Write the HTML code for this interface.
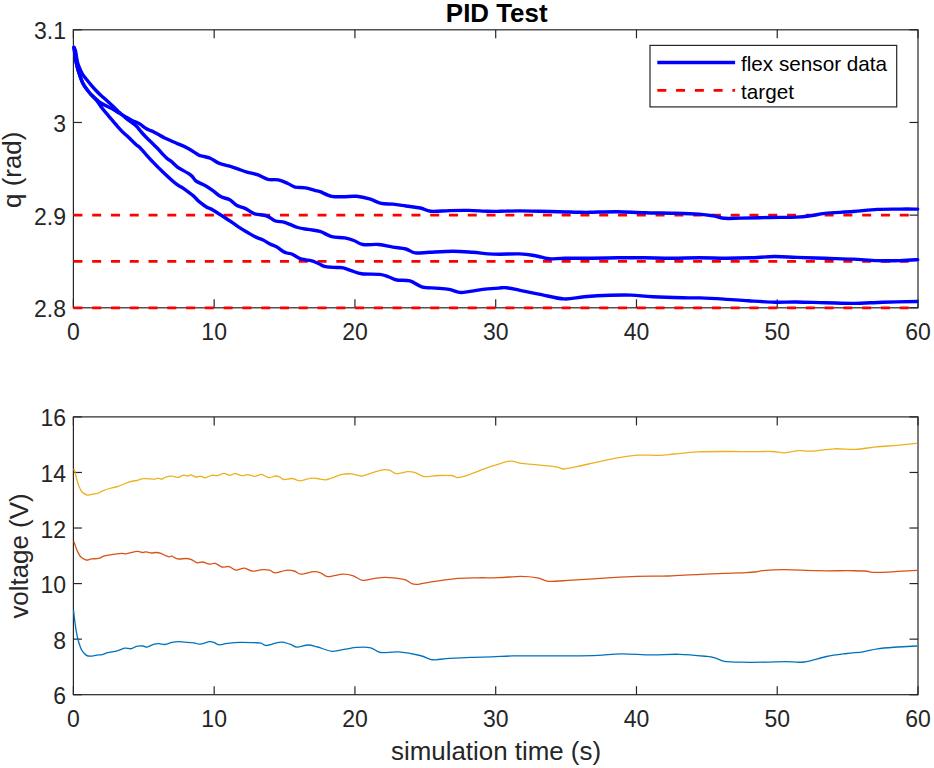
<!DOCTYPE html><html><head><meta charset="utf-8"><style>html,body{margin:0;padding:0;background:#fff;}svg{display:block}</style></head><body>
<svg width="934" height="768" viewBox="0 0 934 768">
<rect width="934" height="768" fill="#fff"/>
<line x1="73.40" y1="307.80" x2="73.40" y2="299.30" stroke="#262626" stroke-width="1.20"/>
<line x1="73.40" y1="29.80" x2="73.40" y2="38.30" stroke="#262626" stroke-width="1.20"/>
<line x1="214.17" y1="307.80" x2="214.17" y2="299.30" stroke="#262626" stroke-width="1.20"/>
<line x1="214.17" y1="29.80" x2="214.17" y2="38.30" stroke="#262626" stroke-width="1.20"/>
<line x1="354.93" y1="307.80" x2="354.93" y2="299.30" stroke="#262626" stroke-width="1.20"/>
<line x1="354.93" y1="29.80" x2="354.93" y2="38.30" stroke="#262626" stroke-width="1.20"/>
<line x1="495.70" y1="307.80" x2="495.70" y2="299.30" stroke="#262626" stroke-width="1.20"/>
<line x1="495.70" y1="29.80" x2="495.70" y2="38.30" stroke="#262626" stroke-width="1.20"/>
<line x1="636.47" y1="307.80" x2="636.47" y2="299.30" stroke="#262626" stroke-width="1.20"/>
<line x1="636.47" y1="29.80" x2="636.47" y2="38.30" stroke="#262626" stroke-width="1.20"/>
<line x1="777.23" y1="307.80" x2="777.23" y2="299.30" stroke="#262626" stroke-width="1.20"/>
<line x1="777.23" y1="29.80" x2="777.23" y2="38.30" stroke="#262626" stroke-width="1.20"/>
<line x1="918.00" y1="307.80" x2="918.00" y2="299.30" stroke="#262626" stroke-width="1.20"/>
<line x1="918.00" y1="29.80" x2="918.00" y2="38.30" stroke="#262626" stroke-width="1.20"/>
<line x1="73.40" y1="694.70" x2="73.40" y2="686.20" stroke="#262626" stroke-width="1.20"/>
<line x1="73.40" y1="416.90" x2="73.40" y2="425.40" stroke="#262626" stroke-width="1.20"/>
<line x1="214.17" y1="694.70" x2="214.17" y2="686.20" stroke="#262626" stroke-width="1.20"/>
<line x1="214.17" y1="416.90" x2="214.17" y2="425.40" stroke="#262626" stroke-width="1.20"/>
<line x1="354.93" y1="694.70" x2="354.93" y2="686.20" stroke="#262626" stroke-width="1.20"/>
<line x1="354.93" y1="416.90" x2="354.93" y2="425.40" stroke="#262626" stroke-width="1.20"/>
<line x1="495.70" y1="694.70" x2="495.70" y2="686.20" stroke="#262626" stroke-width="1.20"/>
<line x1="495.70" y1="416.90" x2="495.70" y2="425.40" stroke="#262626" stroke-width="1.20"/>
<line x1="636.47" y1="694.70" x2="636.47" y2="686.20" stroke="#262626" stroke-width="1.20"/>
<line x1="636.47" y1="416.90" x2="636.47" y2="425.40" stroke="#262626" stroke-width="1.20"/>
<line x1="777.23" y1="694.70" x2="777.23" y2="686.20" stroke="#262626" stroke-width="1.20"/>
<line x1="777.23" y1="416.90" x2="777.23" y2="425.40" stroke="#262626" stroke-width="1.20"/>
<line x1="918.00" y1="694.70" x2="918.00" y2="686.20" stroke="#262626" stroke-width="1.20"/>
<line x1="918.00" y1="416.90" x2="918.00" y2="425.40" stroke="#262626" stroke-width="1.20"/>
<line x1="73.40" y1="307.80" x2="81.90" y2="307.80" stroke="#262626" stroke-width="1.20"/>
<line x1="918.00" y1="307.80" x2="909.50" y2="307.80" stroke="#262626" stroke-width="1.20"/>
<line x1="73.40" y1="215.13" x2="81.90" y2="215.13" stroke="#262626" stroke-width="1.20"/>
<line x1="918.00" y1="215.13" x2="909.50" y2="215.13" stroke="#262626" stroke-width="1.20"/>
<line x1="73.40" y1="122.47" x2="81.90" y2="122.47" stroke="#262626" stroke-width="1.20"/>
<line x1="918.00" y1="122.47" x2="909.50" y2="122.47" stroke="#262626" stroke-width="1.20"/>
<line x1="73.40" y1="29.80" x2="81.90" y2="29.80" stroke="#262626" stroke-width="1.20"/>
<line x1="918.00" y1="29.80" x2="909.50" y2="29.80" stroke="#262626" stroke-width="1.20"/>
<line x1="73.40" y1="694.70" x2="81.90" y2="694.70" stroke="#262626" stroke-width="1.20"/>
<line x1="918.00" y1="694.70" x2="909.50" y2="694.70" stroke="#262626" stroke-width="1.20"/>
<line x1="73.40" y1="639.14" x2="81.90" y2="639.14" stroke="#262626" stroke-width="1.20"/>
<line x1="918.00" y1="639.14" x2="909.50" y2="639.14" stroke="#262626" stroke-width="1.20"/>
<line x1="73.40" y1="583.58" x2="81.90" y2="583.58" stroke="#262626" stroke-width="1.20"/>
<line x1="918.00" y1="583.58" x2="909.50" y2="583.58" stroke="#262626" stroke-width="1.20"/>
<line x1="73.40" y1="528.02" x2="81.90" y2="528.02" stroke="#262626" stroke-width="1.20"/>
<line x1="918.00" y1="528.02" x2="909.50" y2="528.02" stroke="#262626" stroke-width="1.20"/>
<line x1="73.40" y1="472.46" x2="81.90" y2="472.46" stroke="#262626" stroke-width="1.20"/>
<line x1="918.00" y1="472.46" x2="909.50" y2="472.46" stroke="#262626" stroke-width="1.20"/>
<line x1="73.40" y1="416.90" x2="81.90" y2="416.90" stroke="#262626" stroke-width="1.20"/>
<line x1="918.00" y1="416.90" x2="909.50" y2="416.90" stroke="#262626" stroke-width="1.20"/>
<rect x="73.40" y="29.80" width="844.60" height="278.00" fill="none" stroke="#262626" stroke-width="1.20"/>
<rect x="73.40" y="416.90" width="844.60" height="277.80" fill="none" stroke="#262626" stroke-width="1.20"/>
<line x1="73.40" y1="215.13" x2="918.00" y2="215.13" stroke="#ff0000" stroke-width="2.7" stroke-dasharray="9 9.78"/>
<line x1="73.40" y1="261.47" x2="918.00" y2="261.47" stroke="#ff0000" stroke-width="2.7" stroke-dasharray="9 9.78"/>
<line x1="73.40" y1="307.80" x2="918.00" y2="307.80" stroke="#ff0000" stroke-width="2.7" stroke-dasharray="9 9.78"/>
<g fill="none" stroke-linejoin="round" stroke-linecap="round">
<path d="M74.0 47.5 C74.1 48.4 74.4 50.2 74.8 53.0 C75.2 55.8 75.8 60.6 76.5 64.0 C77.2 67.4 78.2 70.4 79.2 73.6 C80.2 76.8 81.4 80.4 82.8 83.2 C84.2 86.0 86.3 88.6 87.8 90.6 C89.2 92.6 90.1 93.6 91.5 95.0 C92.9 96.4 94.6 97.8 96.0 99.0 C97.4 100.2 98.2 101.3 100.0 102.5 C101.8 103.7 104.3 105.0 106.5 106.1 C108.7 107.2 110.8 108.1 113.0 109.3 C115.2 110.5 117.3 111.9 119.5 113.2 C121.7 114.5 123.8 115.8 126.0 117.1 C128.2 118.3 130.4 119.6 132.6 120.7 C134.8 121.8 136.9 122.3 139.1 123.6 C141.3 124.8 143.8 127.0 145.6 128.2 C147.4 129.3 148.8 129.9 150.0 130.5 C151.2 131.1 150.6 130.2 153.0 131.5 C155.4 132.8 160.8 136.1 164.7 138.0 C168.6 139.9 172.6 141.5 176.5 143.2 C180.4 144.9 184.5 146.4 188.2 148.4 C191.9 150.4 196.2 153.6 198.6 154.9 C201.0 156.2 200.6 155.6 202.5 156.2 C204.4 156.8 207.5 157.0 210.3 158.2 C213.1 159.4 215.9 162.0 219.4 163.4 C222.9 164.8 228.0 165.7 231.1 166.6 C234.2 167.5 235.2 168.0 237.8 168.9 C240.4 169.8 243.7 171.1 246.9 172.1 C250.2 173.1 253.8 173.5 257.3 174.7 C260.8 175.9 264.3 178.4 267.8 179.3 C271.3 180.2 274.9 179.2 278.2 179.9 C281.4 180.6 284.5 182.0 287.3 183.2 C290.1 184.4 292.1 186.3 295.1 187.1 C298.1 187.9 302.2 187.2 305.5 187.8 C308.8 188.4 312.2 189.8 314.6 190.4 C317.0 191.1 317.1 190.7 320.0 191.7 C322.9 192.7 327.8 195.5 331.7 196.3 C335.6 197.1 339.3 196.7 343.4 196.7 C347.5 196.7 352.1 195.9 356.5 196.3 C360.9 196.7 365.4 197.7 369.5 198.9 C373.6 200.1 377.3 202.5 381.2 203.4 C385.1 204.3 388.8 203.7 392.9 204.1 C397.0 204.5 401.3 205.3 405.9 206.0 C410.5 206.7 416.2 207.1 420.4 208.0 C424.5 208.9 426.0 210.9 430.8 211.3 C435.6 211.7 442.8 210.8 449.1 210.6 C455.4 210.4 462.1 210.3 468.6 210.4 C475.1 210.5 482.9 211.2 488.1 211.3 C493.3 211.5 494.8 211.4 500.0 211.3 C505.2 211.2 513.0 210.9 519.5 210.9 C526.0 210.9 532.6 211.2 539.1 211.3 C545.6 211.4 552.1 211.5 558.6 211.7 C565.1 211.8 572.9 212.1 578.1 212.2 C583.3 212.3 583.5 212.4 590.0 212.3 C596.5 212.2 608.2 211.6 617.3 211.7 C626.4 211.8 635.5 212.6 644.6 212.8 C653.7 213.1 662.8 213.0 671.9 213.2 C681.0 213.4 692.2 213.6 699.2 214.1 C706.2 214.6 709.5 215.2 713.8 215.9 C718.0 216.6 720.2 217.9 724.7 218.3 C729.2 218.7 733.8 218.2 741.1 218.1 C748.4 218.0 759.4 217.7 768.7 217.5 C778.0 217.3 789.6 217.4 796.8 217.1 C804.0 216.8 807.1 216.2 811.8 215.6 C816.5 215.0 818.1 214.1 825.0 213.4 C831.9 212.7 844.4 212.2 853.1 211.5 C861.8 210.8 869.6 209.8 877.4 209.4 C885.2 209.0 893.2 209.2 899.9 209.1 C906.6 209.0 914.7 209.1 917.7 209.1" stroke="#0000ff" stroke-width="3.4"/>
<path d="M74.0 47.5 C74.2 48.1 74.9 48.6 75.5 51.0 C76.1 53.4 76.7 59.2 77.4 62.0 C78.1 64.8 78.7 66.0 79.5 68.0 C80.3 70.0 81.1 71.9 82.3 73.8 C83.5 75.7 84.9 77.3 86.4 79.3 C88.0 81.3 90.0 83.7 91.6 85.6 C93.2 87.5 94.4 88.8 96.0 90.5 C97.6 92.2 99.3 93.9 101.3 95.7 C103.3 97.5 105.6 99.5 107.8 101.5 C110.0 103.5 112.3 105.6 114.3 107.4 C116.2 109.2 117.8 111.0 119.5 112.6 C121.2 114.2 122.9 115.6 124.7 117.1 C126.5 118.6 128.6 120.2 130.6 121.7 C132.6 123.2 134.7 124.5 136.5 126.3 C138.3 128.1 140.0 130.6 141.7 132.5 C143.4 134.4 145.5 136.6 146.9 138.0 C148.3 139.4 148.3 139.4 150.0 141.0 C151.7 142.6 154.2 145.1 156.9 147.8 C159.6 150.6 163.6 155.2 166.0 157.5 C168.4 159.8 169.3 159.8 171.3 161.4 C173.3 163.0 174.6 165.0 177.8 167.3 C181.1 169.6 187.8 172.8 190.8 175.1 C193.8 177.4 193.6 179.3 196.0 181.0 C198.4 182.7 202.3 183.9 205.1 185.5 C207.9 187.1 210.3 188.8 212.9 190.7 C215.5 192.5 217.9 195.1 220.7 196.6 C223.5 198.1 227.2 198.4 229.8 199.8 C232.4 201.2 233.9 203.8 236.5 205.3 C239.1 206.8 242.6 207.2 245.6 208.6 C248.6 210.0 251.2 212.6 254.7 213.8 C258.2 215.0 263.0 214.6 266.5 215.8 C270.0 217.0 272.6 219.9 275.6 221.0 C278.6 222.1 281.0 221.2 284.7 222.3 C288.4 223.4 293.8 226.3 297.7 227.5 C301.6 228.7 304.4 228.8 308.1 229.4 C311.8 230.1 316.1 230.2 320.0 231.4 C323.9 232.6 327.6 235.5 331.7 236.6 C335.8 237.7 341.0 237.2 344.7 237.9 C348.4 238.6 350.8 239.4 353.9 240.5 C356.9 241.6 358.9 243.8 363.0 244.5 C367.1 245.2 373.6 244.1 378.6 244.5 C383.6 244.9 388.3 246.3 392.9 247.1 C397.4 247.8 402.2 248.0 405.9 249.0 C409.6 250.0 411.2 252.3 415.1 252.9 C419.0 253.5 423.2 252.6 429.5 252.3 C435.8 252.0 445.8 251.3 453.0 251.3 C460.2 251.3 466.6 251.9 472.5 252.3 C478.4 252.7 483.5 253.6 488.1 253.9 C492.7 254.2 494.8 254.2 500.0 254.2 C505.2 254.2 514.1 253.7 519.5 253.9 C524.9 254.1 528.9 254.6 532.6 255.2 C536.3 255.8 538.9 256.6 541.7 257.2 C544.5 257.8 545.6 258.6 549.5 258.8 C553.4 259.0 558.4 258.3 565.1 258.2 C571.9 258.1 581.3 258.4 590.0 258.3 C598.7 258.2 608.2 257.9 617.3 257.8 C626.4 257.7 635.5 257.7 644.6 257.8 C653.7 257.9 662.8 258.2 671.9 258.2 C681.0 258.2 690.1 257.8 699.2 257.8 C708.3 257.8 718.0 258.2 726.5 258.2 C735.0 258.2 742.0 258.1 750.0 257.8 C758.0 257.5 766.6 256.6 774.4 256.5 C782.2 256.4 788.4 257.1 796.8 257.4 C805.2 257.7 815.6 258.0 825.0 258.3 C834.4 258.6 844.4 258.7 853.1 259.1 C861.8 259.5 869.6 260.4 877.4 260.6 C885.2 260.9 893.2 260.8 899.9 260.6 C906.6 260.4 914.7 259.8 917.7 259.6" stroke="#0000ff" stroke-width="3.4"/>
<path d="M74.0 47.5 C74.1 48.4 74.4 50.2 74.8 53.0 C75.2 55.8 75.8 60.6 76.5 64.0 C77.2 67.4 78.2 70.4 79.2 73.6 C80.2 76.8 81.4 80.4 82.8 83.2 C84.2 86.0 86.3 88.6 87.8 90.6 C89.2 92.6 90.0 93.3 91.5 95.0 C93.0 96.7 95.2 98.8 97.0 101.0 C98.8 103.2 100.1 105.5 102.0 108.0 C103.9 110.5 106.1 113.0 108.5 115.8 C110.9 118.6 113.9 122.3 116.3 125.0 C118.7 127.7 120.6 129.9 122.8 132.1 C125.0 134.3 127.0 135.8 129.3 138.0 C131.6 140.2 134.7 143.4 136.5 145.0 C138.3 146.6 137.2 145.0 140.0 147.8 C142.8 150.7 149.3 158.2 153.0 162.1 C156.7 166.0 158.2 167.5 162.1 171.2 C166.0 174.9 173.0 181.4 176.5 184.2 C180.0 187.0 180.2 186.1 183.0 188.1 C185.8 190.1 190.8 193.7 193.4 195.9 C196.0 198.1 196.4 199.2 198.6 201.1 C200.8 202.9 204.0 205.5 206.4 207.0 C208.8 208.5 209.0 207.7 212.9 210.0 C216.8 212.3 225.4 218.0 230.0 221.0 C234.6 224.0 237.6 226.3 240.4 228.1 C243.2 229.9 244.5 230.6 246.9 232.0 C249.3 233.4 252.1 235.3 254.7 236.6 C257.3 237.9 260.1 238.6 262.6 239.8 C265.2 241.0 267.6 242.8 270.0 244.0 C272.4 245.2 274.8 245.8 276.9 247.0 C279.0 248.2 281.1 250.3 282.8 251.3 C284.5 252.3 285.5 252.5 287.1 253.0 C288.7 253.5 290.2 253.4 292.3 254.3 C294.4 255.2 297.7 257.7 300.0 258.6 C302.3 259.5 303.9 259.4 306.0 259.8 C308.1 260.2 310.7 260.5 312.8 261.1 C314.9 261.8 316.7 262.8 318.8 263.7 C320.9 264.6 322.7 266.1 325.7 266.7 C328.7 267.3 333.9 267.3 336.8 267.5 C339.8 267.7 340.8 267.3 343.4 267.9 C346.0 268.5 349.6 270.1 352.6 271.1 C355.7 272.1 357.1 273.2 361.7 273.8 C366.2 274.4 375.3 273.9 379.9 274.4 C384.4 274.9 386.2 276.1 389.0 277.0 C391.8 277.9 393.3 279.4 396.8 280.0 C400.3 280.6 405.9 279.8 410.0 280.9 C414.1 282.0 417.4 285.6 421.7 286.8 C426.0 288.0 431.4 287.7 436.0 288.1 C440.6 288.5 445.2 288.7 449.1 289.4 C453.0 290.1 456.0 292.1 459.5 292.4 C463.0 292.7 466.0 291.9 469.9 291.4 C473.8 290.9 478.1 289.9 482.9 289.4 C487.7 288.8 494.6 288.4 498.5 288.1 C502.4 287.8 502.9 287.3 506.5 287.7 C510.1 288.1 514.2 289.1 520.0 290.3 C525.8 291.5 534.1 293.2 541.4 294.6 C548.7 296.0 556.8 298.5 563.9 298.9 C571.0 299.3 576.5 297.4 584.2 296.8 C591.9 296.2 602.0 295.6 609.9 295.3 C617.8 295.0 624.1 294.9 631.3 295.1 C638.4 295.4 644.2 296.4 652.8 296.8 C661.4 297.2 674.8 297.6 682.7 297.8 C690.6 298.0 693.1 297.7 700.0 297.9 C706.9 298.1 716.1 298.6 724.1 299.1 C732.1 299.6 739.8 300.3 748.2 300.8 C756.6 301.3 766.7 302.0 774.7 302.2 C782.7 302.4 788.0 301.9 796.4 302.0 C804.8 302.1 815.7 302.5 825.3 302.7 C834.9 302.9 844.6 303.5 854.2 303.4 C863.8 303.3 872.7 302.5 883.1 302.2 C893.5 301.9 911.2 301.6 916.8 301.5" stroke="#0000ff" stroke-width="3.4"/>
</g>
<g fill="none" stroke-linejoin="round" stroke-width="1.3">
<path d="M73.5 609.6 C73.7 611.6 74.3 617.6 74.8 621.4 C75.3 625.1 75.8 628.7 76.4 632.1 C77.0 635.5 77.7 638.8 78.6 641.8 C79.5 644.8 80.5 648.1 81.8 650.3 C83.0 652.5 84.7 654.1 86.1 655.1 C87.5 656.1 88.5 656.2 90.3 656.2 C92.1 656.2 94.8 655.4 96.8 655.1 C98.8 654.8 100.3 655.0 102.1 654.6 C103.9 654.2 105.0 653.3 107.5 652.7 C110.0 652.1 114.2 651.6 117.1 650.9 C119.9 650.1 122.3 648.6 124.6 648.2 C126.9 647.8 129.0 649.0 131.0 648.7 C133.0 648.4 134.4 646.8 136.4 646.3 C138.4 645.8 141.0 645.9 142.8 646.0 C144.6 646.1 145.3 647.4 147.1 647.1 C148.9 646.8 151.5 645.0 153.5 644.4 C155.5 643.8 157.0 643.7 158.9 643.7 C160.8 643.7 162.8 644.7 165.0 644.5 C167.2 644.3 169.7 642.9 172.0 642.4 C174.3 641.9 176.3 641.7 178.9 641.7 C181.5 641.7 184.8 642.2 187.3 642.4 C189.9 642.6 192.1 642.5 194.2 642.8 C196.3 643.1 197.2 644.4 199.8 644.2 C202.4 644.0 207.2 642.0 209.5 641.7 C211.8 641.4 212.1 641.9 213.7 642.4 C215.3 642.9 217.0 644.6 219.3 644.8 C221.6 645.0 224.1 643.8 227.6 643.4 C231.1 643.0 235.8 642.5 240.2 642.4 C244.6 642.3 250.6 642.6 254.1 642.7 C257.6 642.8 258.9 642.6 261.0 643.1 C263.1 643.6 263.4 645.7 266.6 645.5 C269.9 645.3 276.6 642.3 280.5 642.1 C284.4 641.9 287.2 643.4 290.0 644.2 C292.8 645.0 294.0 647.0 297.0 647.1 C300.0 647.2 304.6 645.0 308.1 645.0 C311.6 645.0 313.9 646.0 317.8 647.0 C321.8 648.0 327.2 650.9 331.8 651.3 C336.4 651.6 341.5 649.8 345.7 649.1 C349.9 648.5 352.6 647.6 356.8 647.4 C361.0 647.2 366.8 646.9 370.7 647.8 C374.6 648.6 375.9 651.8 380.5 652.5 C385.1 653.2 392.0 651.4 398.6 651.9 C405.2 652.4 414.7 654.2 420.0 655.5 C425.3 656.8 427.7 658.7 430.3 659.4 C432.9 660.1 432.6 660.0 435.9 659.8 C439.1 659.6 444.0 658.8 449.8 658.4 C455.6 658.0 463.8 657.5 470.7 657.3 C477.6 657.0 484.6 657.1 491.5 656.9 C498.4 656.7 504.3 656.1 512.4 655.9 C520.5 655.7 530.0 655.8 540.0 655.8 C550.0 655.8 562.5 655.9 572.1 655.8 C581.7 655.7 589.6 655.6 597.8 655.3 C606.0 655.0 612.5 653.9 621.4 653.8 C630.3 653.7 641.7 654.8 651.3 654.9 C660.9 655.0 669.9 654.0 679.2 654.3 C688.5 654.5 700.9 655.8 707.0 656.4 C713.1 657.0 712.7 657.3 715.6 658.1 C718.5 658.9 720.1 660.6 724.2 661.3 C728.3 662.0 733.1 662.1 740.0 662.2 C746.9 662.4 757.9 662.3 765.5 662.2 C773.1 662.1 779.4 661.6 785.9 661.6 C792.4 661.6 797.4 662.9 804.2 662.0 C811.0 661.1 819.4 657.9 826.5 656.5 C833.6 655.1 840.8 654.3 846.9 653.5 C853.0 652.7 858.1 652.6 863.2 651.8 C868.3 651.0 871.6 649.6 877.4 648.8 C883.1 648.0 891.1 647.5 897.7 647.0 C904.3 646.5 913.8 646.2 917.0 646.0" stroke="#0072bd"/>
<path d="M73.7 541.2 C74.0 542.0 74.8 544.4 75.4 546.1 C76.0 547.8 76.6 549.6 77.5 551.4 C78.4 553.2 79.3 555.4 80.7 556.8 C82.1 558.2 84.3 559.6 86.1 560.0 C87.9 560.4 89.3 559.2 91.4 558.9 C93.5 558.6 96.8 558.9 98.9 558.4 C101.1 557.9 102.0 556.6 104.3 555.9 C106.6 555.2 109.9 554.8 112.8 554.4 C115.7 554.0 119.2 553.4 121.4 553.3 C123.6 553.2 124.3 553.9 125.7 553.8 C127.1 553.7 128.0 553.2 130.0 552.8 C132.0 552.4 135.4 551.4 137.5 551.4 C139.6 551.4 141.4 552.4 142.8 552.5 C144.2 552.6 144.6 551.8 146.0 551.9 C147.4 552.0 149.8 552.9 151.4 553.0 C153.0 553.1 154.1 552.5 155.7 552.5 C157.3 552.5 159.4 552.8 161.0 553.3 C162.6 553.8 163.6 554.8 165.0 555.4 C166.4 556.0 168.0 556.7 169.2 556.8 C170.4 556.9 170.6 555.8 172.0 556.1 C173.4 556.5 175.2 558.5 177.5 558.9 C179.8 559.3 183.6 558.4 185.9 558.5 C188.2 558.6 189.6 558.9 191.4 559.6 C193.2 560.3 195.1 562.4 197.0 562.8 C198.9 563.2 200.5 561.8 202.6 562.0 C204.7 562.2 207.4 564.0 209.5 564.2 C211.6 564.4 213.0 562.9 215.1 563.4 C217.2 563.9 219.8 566.5 222.1 567.0 C224.4 567.5 226.7 566.1 229.0 566.6 C231.3 567.1 233.4 569.8 236.0 570.1 C238.6 570.4 241.5 568.0 244.3 568.2 C247.1 568.4 249.7 571.0 252.7 571.2 C255.7 571.4 259.6 569.8 262.4 569.6 C265.2 569.4 267.3 569.6 269.4 570.1 C271.5 570.6 272.2 572.8 275.0 572.8 C277.8 572.8 282.9 570.6 286.1 570.3 C289.3 570.0 291.7 570.4 294.2 571.0 C296.7 571.6 297.9 574.1 301.1 574.2 C304.4 574.3 310.4 571.9 313.7 571.7 C316.9 571.5 318.3 572.0 320.6 572.8 C322.9 573.6 323.9 576.4 327.6 576.6 C331.3 576.8 338.7 574.3 342.9 574.1 C347.1 573.9 349.4 574.6 352.6 575.6 C355.9 576.6 358.9 579.8 362.4 580.3 C365.9 580.8 369.8 579.2 373.5 578.7 C377.2 578.2 380.9 577.4 384.6 577.3 C388.3 577.2 392.3 577.8 395.8 578.2 C399.3 578.6 402.7 578.8 405.5 579.8 C408.3 580.8 410.1 583.2 412.5 583.9 C414.9 584.6 417.3 584.3 420.0 584.0 C422.7 583.7 423.2 583.2 428.9 582.3 C434.6 581.4 445.9 579.5 454.0 578.8 C462.1 578.0 470.2 578.0 477.6 577.8 C485.0 577.6 491.3 578.0 498.5 577.7 C505.7 577.5 514.3 576.3 520.8 576.3 C527.3 576.3 532.9 577.0 537.5 577.8 C542.1 578.6 542.8 580.9 548.6 581.3 C554.4 581.7 562.8 580.6 572.1 580.1 C581.4 579.6 593.5 578.7 604.2 578.1 C614.9 577.5 625.7 576.8 636.4 576.4 C647.1 576.0 657.8 576.4 668.5 576.0 C679.2 575.6 688.7 574.8 700.6 574.3 C712.5 573.8 730.9 573.2 740.0 572.8 C749.1 572.4 751.0 572.4 755.3 572.0 C759.5 571.6 760.4 570.7 765.5 570.3 C770.6 569.9 777.4 569.6 785.9 569.7 C794.4 569.8 806.2 570.5 816.4 570.7 C826.6 570.9 838.8 570.7 846.9 570.7 C855.0 570.8 860.8 570.7 865.2 571.0 C869.6 571.3 867.9 572.3 873.3 572.4 C878.7 572.5 890.4 571.8 897.7 571.4 C905.0 571.0 913.8 570.5 917.0 570.3" stroke="#d95319"/>
<path d="M73.7 468.7 C73.9 469.1 74.3 469.9 74.8 471.4 C75.2 472.9 75.8 475.5 76.4 477.8 C77.0 480.1 77.7 483.0 78.6 485.3 C79.5 487.6 80.4 490.2 81.8 491.8 C83.2 493.4 85.5 494.6 87.1 495.0 C88.7 495.4 89.6 494.7 91.4 494.4 C93.2 494.1 96.0 493.9 97.8 493.4 C99.6 492.9 100.1 492.0 102.1 491.2 C104.1 490.4 106.9 489.3 109.6 488.5 C112.3 487.7 115.0 487.5 118.2 486.4 C121.4 485.3 125.9 483.1 128.9 482.1 C131.9 481.1 133.9 481.1 136.4 480.5 C138.9 479.9 140.9 478.9 143.9 478.7 C146.9 478.5 152.3 479.2 154.6 479.1 C156.9 479.0 156.6 478.1 157.8 478.1 C159.1 478.1 160.8 479.3 162.1 479.1 C163.4 478.9 163.9 477.6 165.6 477.1 C167.3 476.6 170.4 476.1 172.5 476.2 C174.6 476.2 176.2 477.6 178.1 477.4 C180.0 477.2 182.1 475.3 183.7 475.1 C185.3 474.9 186.7 476.1 187.8 476.0 C189.0 475.9 189.2 474.6 190.6 474.8 C192.0 475.0 194.6 476.9 196.2 477.1 C197.8 477.3 198.9 476.1 200.4 476.2 C201.9 476.3 203.3 477.9 205.2 477.8 C207.0 477.7 209.5 475.7 211.5 475.3 C213.5 474.9 215.0 476.0 217.1 475.7 C219.2 475.4 221.9 473.5 224.0 473.4 C226.1 473.3 227.7 475.2 229.6 475.3 C231.5 475.4 233.1 473.6 235.2 473.7 C237.3 473.8 240.0 475.5 242.1 475.7 C244.2 475.9 245.6 474.5 247.7 474.6 C249.8 474.7 252.3 476.4 254.6 476.4 C256.9 476.4 259.3 474.2 261.6 474.4 C263.9 474.6 266.3 477.3 268.6 477.6 C270.9 477.9 273.6 476.1 275.5 476.0 C277.4 475.9 278.3 476.3 279.7 476.9 C281.1 477.5 281.8 479.2 283.9 479.5 C285.9 479.8 289.3 478.3 292.0 478.5 C294.7 478.7 297.3 480.9 300.3 480.9 C303.3 480.9 307.3 478.7 310.1 478.3 C312.9 477.9 314.4 478.2 317.0 478.5 C319.6 478.8 322.8 480.0 325.4 479.9 C327.9 479.8 329.5 478.7 332.3 477.8 C335.1 476.9 338.9 475.0 342.1 474.4 C345.4 473.8 348.6 473.6 351.8 473.9 C355.0 474.2 358.2 476.1 361.5 476.0 C364.8 475.9 367.8 474.0 371.3 473.0 C374.8 472.0 379.4 470.3 382.4 469.8 C385.4 469.3 387.1 469.6 389.4 470.2 C391.7 470.8 393.5 473.4 396.3 473.7 C399.1 474.0 403.8 472.2 406.1 471.9 C408.4 471.6 408.2 471.4 410.0 471.7 C411.8 471.9 414.7 472.6 417.0 473.4 C419.3 474.2 420.4 476.1 423.9 476.5 C427.4 476.9 433.1 475.7 437.8 475.5 C442.5 475.3 448.6 475.1 451.8 475.5 C455.1 475.9 455.0 477.5 457.3 477.6 C459.6 477.7 462.0 477.1 465.7 475.9 C469.4 474.7 475.0 472.3 479.6 470.6 C484.2 468.9 488.4 467.3 493.5 465.7 C498.6 464.1 505.6 461.6 510.2 461.2 C514.8 460.8 517.2 462.8 521.3 463.4 C525.4 464.0 529.1 464.1 535.0 464.7 C540.9 465.3 551.6 466.1 556.4 466.8 C561.2 467.5 560.3 469.1 563.9 469.0 C567.5 468.9 571.9 467.6 577.8 466.4 C583.7 465.2 592.1 463.2 599.2 461.7 C606.4 460.2 614.3 458.5 620.7 457.4 C627.1 456.3 631.4 455.5 637.8 455.1 C644.2 454.8 653.1 455.5 659.2 455.3 C665.3 455.1 667.8 454.6 674.2 454.0 C680.6 453.4 688.4 452.2 697.7 451.8 C707.0 451.4 721.1 451.5 730.0 451.5 C738.9 451.5 743.9 451.7 750.9 451.7 C757.9 451.7 766.2 451.3 771.8 451.5 C777.4 451.7 779.8 452.9 784.3 452.8 C788.8 452.7 794.4 451.0 798.9 450.7 C803.4 450.4 805.5 451.4 811.4 451.1 C817.3 450.8 827.1 449.1 834.4 448.8 C841.7 448.5 848.3 449.7 855.3 449.4 C862.2 449.1 869.1 447.6 876.1 446.9 C883.1 446.2 890.2 445.9 897.0 445.3 C903.8 444.7 913.5 443.7 916.8 443.4" stroke="#edb120"/>
</g>
<g font-family="Liberation Sans" font-size="23" fill="#262626">
<text x="73.40" y="339.80" text-anchor="middle">0</text>
<text x="214.17" y="339.80" text-anchor="middle">10</text>
<text x="354.93" y="339.80" text-anchor="middle">20</text>
<text x="495.70" y="339.80" text-anchor="middle">30</text>
<text x="636.47" y="339.80" text-anchor="middle">40</text>
<text x="777.23" y="339.80" text-anchor="middle">50</text>
<text x="918.00" y="339.80" text-anchor="middle">60</text>
<text x="73.40" y="726.70" text-anchor="middle">0</text>
<text x="214.17" y="726.70" text-anchor="middle">10</text>
<text x="354.93" y="726.70" text-anchor="middle">20</text>
<text x="495.70" y="726.70" text-anchor="middle">30</text>
<text x="636.47" y="726.70" text-anchor="middle">40</text>
<text x="777.23" y="726.70" text-anchor="middle">50</text>
<text x="918.00" y="726.70" text-anchor="middle">60</text>
<text x="66.00" y="317.30" text-anchor="end">2.8</text>
<text x="66.00" y="224.63" text-anchor="end">2.9</text>
<text x="66.00" y="131.97" text-anchor="end">3</text>
<text x="66.00" y="39.30" text-anchor="end">3.1</text>
<text x="66.00" y="704.20" text-anchor="end">6</text>
<text x="66.00" y="648.64" text-anchor="end">8</text>
<text x="66.00" y="593.08" text-anchor="end">10</text>
<text x="66.00" y="537.52" text-anchor="end">12</text>
<text x="66.00" y="481.96" text-anchor="end">14</text>
<text x="66.00" y="426.40" text-anchor="end">16</text>
</g>
<text x="496.7" y="22" font-family="Liberation Sans" font-size="25.9" font-weight="bold" text-anchor="middle" fill="#000">PID Test</text>
<text x="496" y="759.5" font-family="Liberation Sans" font-size="25.9" text-anchor="middle" fill="#262626">simulation time (s)</text>
<text transform="translate(21.3 169.8) rotate(-90)" font-family="Liberation Sans" font-size="25.9" text-anchor="middle" fill="#262626">q (rad)</text>
<text transform="translate(27.6 556) rotate(-90)" font-family="Liberation Sans" font-size="25.9" text-anchor="middle" fill="#262626">voltage (V)</text>
<rect x="650" y="45.4" width="246.7" height="61.5" fill="#fff" stroke="#262626" stroke-width="1.20"/>
<line x1="657.3" y1="62.5" x2="735.1" y2="62.5" stroke="#0000ff" stroke-width="3.4"/>
<line x1="657.3" y1="90.4" x2="735.1" y2="90.4" stroke="#ff0000" stroke-width="2.8" stroke-dasharray="9 9.78"/>
<text x="741" y="71.4" font-family="Liberation Sans" font-size="20.7" fill="#000">flex sensor data</text>
<text x="741" y="99.3" font-family="Liberation Sans" font-size="20.7" fill="#000">target</text>
</svg></body></html>
